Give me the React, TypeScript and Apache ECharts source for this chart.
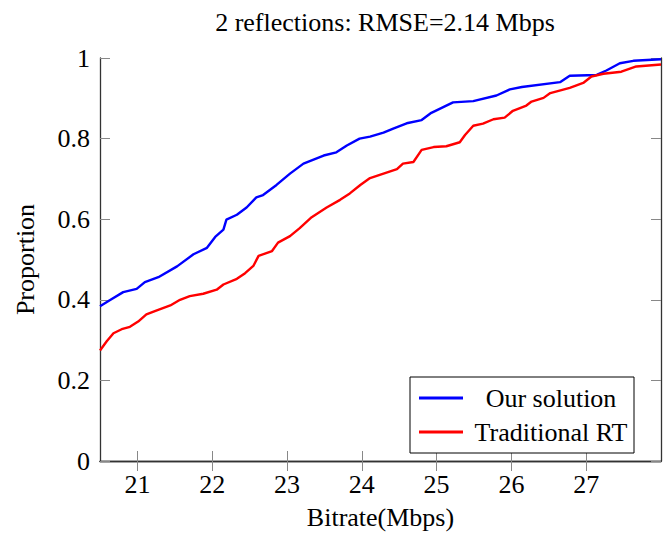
import React, { useEffect, useRef } from "react";
import * as echarts from "echarts";

const ourX = [20.5, 20.63, 20.81, 20.99, 21.1, 21.28, 21.53, 21.75, 21.93, 22.04, 22.15, 22.19, 22.33, 22.46, 22.59, 22.68, 22.86, 23.04, 23.22, 23.49, 23.66, 23.8, 23.97, 24.11, 24.29, 24.42, 24.6, 24.8, 24.93, 25.13, 25.22, 25.49, 25.8, 25.98, 26.14, 26.65, 26.78, 27.14, 27.27, 27.45, 27.63, 28.0];
const ourY = [0.384, 0.399, 0.419, 0.427, 0.444, 0.456, 0.483, 0.513, 0.529, 0.556, 0.574, 0.599, 0.611, 0.629, 0.654, 0.66, 0.685, 0.713, 0.738, 0.758, 0.766, 0.783, 0.8, 0.805, 0.815, 0.825, 0.838, 0.846, 0.864, 0.882, 0.89, 0.893, 0.907, 0.922, 0.928, 0.94, 0.956, 0.958, 0.969, 0.987, 0.993, 0.997];

const rtX = [20.5, 20.59, 20.68, 20.79, 20.9, 21.01, 21.12, 21.26, 21.44, 21.57, 21.7, 21.88, 22.06, 22.15, 22.33, 22.44, 22.55, 22.62, 22.8, 22.88, 23.04, 23.17, 23.33, 23.53, 23.71, 23.84, 23.98, 24.11, 24.29, 24.47, 24.55, 24.69, 24.8, 24.96, 25.13, 25.31, 25.38, 25.49, 25.62, 25.76, 25.91, 26.02, 26.2, 26.27, 26.43, 26.52, 26.78, 26.96, 27.07, 27.23, 27.47, 27.67, 28.0];
const rtY = [0.274, 0.297, 0.317, 0.327, 0.333, 0.346, 0.364, 0.374, 0.386, 0.4, 0.409, 0.415, 0.425, 0.438, 0.452, 0.466, 0.484, 0.509, 0.521, 0.542, 0.558, 0.578, 0.605, 0.629, 0.648, 0.664, 0.685, 0.702, 0.713, 0.724, 0.738, 0.742, 0.772, 0.779, 0.781, 0.791, 0.809, 0.832, 0.837, 0.848, 0.852, 0.869, 0.882, 0.892, 0.901, 0.913, 0.926, 0.938, 0.954, 0.961, 0.966, 0.979, 0.984];

const seriesNames = ["Our solution", "Traditional RT"];
const xTicks = [21, 22, 23, 24, 25, 26, 27];
const yTicks = [0, 0.2, 0.4, 0.6, 0.8, 1];

const FONT = "Liberation Serif";
const FS = 26;

export default function App() {
  const ref = useRef<HTMLDivElement>(null);
  useEffect(() => {
    if (!ref.current) return;
    const chart = echarts.init(ref.current, null, { renderer: "svg" });
    const axisLine = { show: true, lineStyle: { color: "#333", width: 1.3 } };
    const tickStyle = { show: true, inside: true, length: 10, lineStyle: { color: "#888", width: 1 } };
    chart.setOption({
      animation: false,
      backgroundColor: "#fff",
      title: {
        text: "2 reflections: RMSE=2.14 Mbps",
        left: 380,
        top: 4,
        textAlign: "center",
        textStyle: { fontFamily: FONT, fontSize: FS, fontWeight: "normal", color: "#000" },
      },
      grid: { left: 100, right: 11, top: 58, bottom: 69 },
      legend: {
        data: seriesNames,
        orient: "vertical",
        left: 410,
        top: 377,
        backgroundColor: "#fff",
        borderColor: "#000",
        borderWidth: 1,
        borderRadius: 0,
        padding: [7, 0, 7, 9],
        itemGap: 6,
        itemWidth: 44,
        itemHeight: 3,
        itemTextGap: 5,
        icon: "rect",
        formatter: "{c|{name}}",
        textStyle: {
          fontFamily: FONT,
          fontSize: FS,
          color: "#000",
          lineHeight: 28,
          rich: {
            c: {
              fontFamily: FONT,
              fontSize: FS,
              color: "#000",
              width: 166,
              lineHeight: 28,
              align: "center",
            },
          },
        },
      },
      xAxis: [
        {
          type: "value",
          min: 20.5,
          max: 28,
          name: "Bitrate(Mbps)",
          nameLocation: "middle",
          nameGap: 43,
          nameTextStyle: { fontFamily: FONT, fontSize: FS, color: "#000" },
          axisLine,
          axisTick: { ...tickStyle, customValues: xTicks },
          splitLine: { show: false },
          axisLabel: {
            fontFamily: FONT,
            fontSize: FS,
            color: "#000",
            margin: 10,
            customValues: xTicks,
          },
        },
        {
          type: "value",
          position: "top",
          min: 20.5,
          max: 28,
          axisLine,
          axisTick: { ...tickStyle, customValues: xTicks },
          axisLabel: { show: false, customValues: xTicks },
          splitLine: { show: false },
        },
      ],
      yAxis: [
        {
          type: "value",
          min: 0,
          max: 1,
          interval: 0.2,
          name: "Proportion",
          nameLocation: "middle",
          nameGap: 62,
          nameTextStyle: { fontFamily: FONT, fontSize: FS, color: "#000" },
          axisLine,
          axisTick: tickStyle,
          splitLine: { show: false },
          axisLabel: {
            fontFamily: FONT,
            fontSize: FS,
            color: "#000",
            margin: 10,
            formatter: (v: number) => {
              const r = Math.round(v * 10) / 10;
              return yTicks.includes(r) ? String(r) : "";
            },
          },
        },
        {
          type: "value",
          position: "right",
          min: 0,
          max: 1,
          interval: 0.2,
          axisLine,
          axisTick: tickStyle,
          axisLabel: { show: false },
          splitLine: { show: false },
        },
      ],
      series: [
        {
          name: seriesNames[0],
          type: "line",
          data: ourX.map((x, i) => [x, ourY[i]]),
          showSymbol: false,
          symbol: "none",
          lineStyle: { color: "#0000ff", width: 2.4 },
          itemStyle: { color: "#0000ff" },
        },
        {
          name: seriesNames[1],
          type: "line",
          data: rtX.map((x, i) => [x, rtY[i]]),
          showSymbol: false,
          symbol: "none",
          lineStyle: { color: "#ff0000", width: 2.4 },
          itemStyle: { color: "#ff0000" },
        },
      ],
    });
    return () => chart.dispose();
  }, []);
  return <div ref={ref} style={{ width: 672, height: 535, position: "absolute", left: 0, top: 0 }} />;
}
